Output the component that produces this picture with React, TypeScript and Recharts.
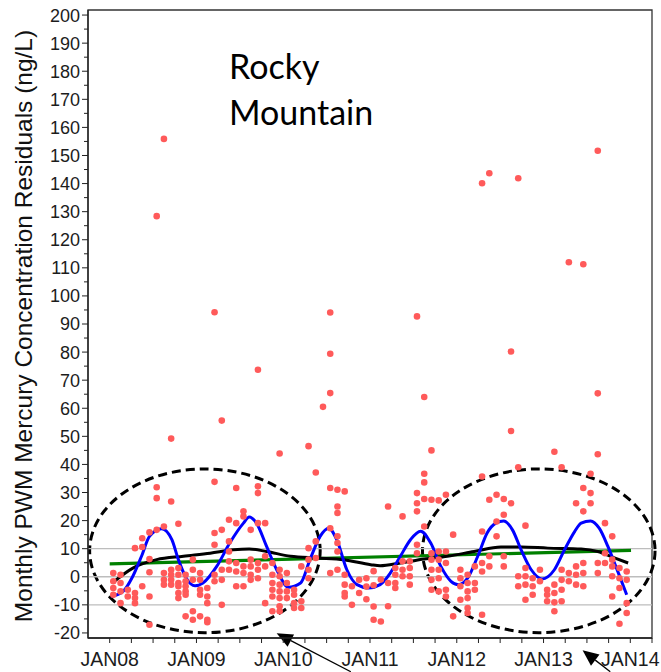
import React from 'react';
import {
  ComposedChart,
  XAxis,
  YAxis,
  Scatter,
  Line,
  ReferenceLine,
  ReferenceArea,
  Customized,
} from 'recharts';

// ---------- data ----------
const xTickLabels = ['JAN08', 'JAN09', 'JAN10', 'JAN11', 'JAN12', 'JAN13', 'JAN14'];
const firstYear = 2008;
const yAxisTitle = 'Monthly PWM Mercury Concentration Residuals (ng/L)';
const panelTitle = ['Rocky', 'Mountain'];

// residuals per month (Jan..Dec), several sites per month
const residuals2008: number[][] = [
  [1.3, -1.6, -4, -6.4],
  [0.7, -2.2, -5.2, -9.4],
  [-4.6, -7],
  [10.2, -5.8, -7.6, -9.4],
  [13.7, 10.6, -3.4],
  [15.8, 6.3, 1.6, -7, -17.1],
  [128.4, 31.9, 28, 16.7],
  [155.9, 17.9, 1.3, -1.1, -2.8],
  [49.2, 26.8, 2.5, 0.7, -1.1, -2.8],
  [18.9, 3.1, 0.7, -2.2, -3.4, -5.8, -7.6],
  [0.7, -1.6, -3.4, -5.2, -6.4, -14.1],
  [6.1, 2.5, -1.1, -12.3, -15.3],
];
const residuals2009: number[][] = [
  [1.3, -1.1, -4.6, -6.4, -14.1],
  [-4, -7, -9.4, -15.3, -16.2],
  [94.2, 33.8, 15.6, 11.4, 0.7, -1.6],
  [55.6, 16.7, 2.5, -1.1, -10],
  [20.3, 12.6, 9, 5.5, 2.5],
  [31.6, 19.1, 4.9, 1.9, -3.4],
  [23.3, 21.5, 3.7, 1.3, -3.4],
  [16.7, 6.1, 3.7, 0.7, -1.1],
  [73.7, 32.2, 29.8, 19.1, 4.9, 2.5, -0.5],
  [19.1, 7.3, 3.7, -9.4],
  [4.9, 0.7, -2.2, -4.6, -7, -12.3],
  [43.9, 2.5, 0.2, -2.8, -5.2, -7.6, -10.5, -12.3],
];
const residuals2010: number[][] = [
  [1.3, -2.2, -5.2, -7.6],
  [-4.6, -6.4, -9.4, -11.1],
  [3.7, -8.7, -11.1],
  [46.5, 10.2, 6.1, 2.5, -0.5],
  [37.1, 12.6, 6.7],
  [60.5],
  [94.1, 79.4, 65.4, 31.6, 17.3, 1.3],
  [31, 25, 22.7, 14.4, 12, 9, 2.5],
  [30.4, 0.7, -2.8, -5.8, -7],
  [-3.4, -10],
  [-1.1, -5.8],
  [-0.5, -3.5, -8],
];
const residuals2011: number[][] = [
  [2, -3, -10.6, -15.3],
  [-1, -15.9],
  [25, -2.2, -10.5],
  [3.1, 0.7, -2.2, -4],
  [21.5, 5.5, 2.5, 0.2],
  [5.5, 3.1, 0.2, -2.8],
  [92.7, 29.8, 26.2, 23.3, 11.4, 8.4],
  [64, 36.7, 33.6, 27.7, 17.9],
  [45, 27.4, 8.4, 6.1, 2.5, -1.1, -4.6],
  [27.2, 9, 6.1, 2.5, -0.5, -5.2],
  [29.2, 9, 4.9, -4.6, -7],
  [15, -14.1],
];
const residuals2012: number[][] = [
  [2.5, -0.5, -3.4, -8.2],
  [0.7, -2.2, -5.2, -7.6, -11.1, -12.9],
  [3.7, -2.2, -4.6],
  [140.1, 35.7, 16.1, 4.9, 1.9, -13.5],
  [143.7, 27.4, 7.3, 3.7],
  [29.2, 19.7, 14.4],
  [27.7, 22.1, 7.3, 3.7],
  [80.2, 51.9, 26.2],
  [141.9, 39, 0.2, -3.4],
  [18.2, 3.1, 0.2, -2.8, -8.2],
  [-0.5, -3.4, -6.4],
  [2.5, -1.6],
];
const residuals2013: number[][] = [
  [-4.6, -6.4, -8.7],
  [44.5, -2.8, -5.8, -9.1, -12.3],
  [39, 2.5, -1.1, -4.6, -8.7],
  [112, 1.3, -1.6],
  [26.2, 3.7, 0.7, -2.8],
  [111.3, 31.6, 23.3, 4.9, 1.3, -3.4],
  [36.7, 29.8, 26.2],
  [151.7, 65.3, 43.6, 4.9, 1.3],
  [19.1, 8.4, 4.9],
  [14.4, 6.1, 3.7, 0.2, -7],
  [3.1, -0.5, -4, -16.7],
  [1.9, -1.1, -9.4, -12.9],
];

// seasonal fit (blue): months since Jan 2008, value
const seasonalMonths = [
  0.2, 1.85, 3.2, 4.4, 5.5, 7.2, 8.6, 9.5, 10.6, 11.8, 12.9, 14.8, 16.6, 18.5, 19.3, 20.3, 21.7,
  23.1, 24.7, 26.4, 27.7, 29.1, 30.3, 31.4, 32.8, 34.2, 35.8, 37.4, 38.8, 40.2, 41.6, 43, 44.4,
  45.8, 47.2, 48.2, 49.5, 50.9, 52.2, 53.4, 54.5, 55.7, 56.9, 58.3, 59.8, 61.5, 62.9, 64.3,
  65.2, 66.5, 67.7, 68.9, 70, 71.5,
];
const seasonalValues = [
  -7, -5.2, 0.2, 7.3, 14.4, 17.1, 13.2, 6.1, -0.5, -3.2, -2.2, 3.7, 12, 19.1, 21.3, 19.1, 10.8,
  2.5, -3.7, -2.2, 6.1, 14.4, 17.3, 13.2, 2.5, -2.8, -4, -2.8, 1.3, 7.3, 13.2, 16.2, 12, 3.7,
  -1.6, -2.8, -0.5, 7.3, 15.6, 19.1, 19.9, 16.7, 9.6, 2.5, -0.8, 2.5, 9.6, 16.1, 19.1, 19.9,
  17.3, 10.8, 3.7, -6.4,
];
// smooth trend (black)
const smoothMonths = [
  0.5, 3.2, 6.5, 10.2, 13.9, 17.1, 19.3, 21.7, 25, 28.7, 32.4, 36.1, 37.4, 40.2, 43.5, 46.7,
  50.4, 54.1, 56.9, 60.6, 65.2, 67.5, 69.8, 71.7,
];
const smoothValues = [
  -1.9, 3.1, 6.1, 7.3, 8.4, 9.6, 9.9, 9, 7.3, 6.7, 6.1, 4.3, 3.9, 4.9, 6.3, 7.3, 9, 10.6, 10.6,
  10.2, 9.9, 9, 6.7, 4.9,
];
// linear trend (green)
const trendMonths = [0, 72.1];
const trendValues = [4.6, 9.4];

// ---------- derived ----------
const monthToYear = (m: number) => firstYear + m / 12;
const scatterData = [
  residuals2008,
  residuals2009,
  residuals2010,
  residuals2011,
  residuals2012,
  residuals2013,
].flatMap((months, yi) =>
  months.flatMap((vals, mi) =>
    vals.map((v) => ({ x: firstYear + yi + (mi + 0.5) / 12, y: v }))
  )
);
const seasonalData = seasonalMonths.map((m, i) => ({ x: monthToYear(m), y: seasonalValues[i] }));
const smoothData = smoothMonths.map((m, i) => ({ x: monthToYear(m), y: smoothValues[i] }));
const trendData = trendMonths.map((m, i) => ({ x: monthToYear(m), y: trendValues[i] }));

const X_MIN = 2007.75;
const X_MAX = 2014.25;
const Y_MIN = -21.8;
const Y_MAX = 201.8;
const xTicks: number[] = [];
for (let q = 2008; q <= X_MAX + 1e-9; q += 0.25) xTicks.push(q);
const yTicks: number[] = [];
for (let v = -20; v <= 200; v += 5) yTicks.push(v);

const tickFont = '"Liberation Sans", Arial, sans-serif';

const YTick = (props: any) => {
  const { x, y, payload } = props;
  const v = payload.value as number;
  const axisX = x + 8;
  const major = v % 10 === 0;
  return (
    <g>
      <line x1={axisX - (major ? 6 : 4)} x2={axisX} y1={y} y2={y} stroke="#222" strokeWidth={1} />
      {major && (
        <text x={axisX - 8} y={y} dy="0.36em" textAnchor="end" fontSize={18} fontFamily={tickFont} fill="#1c1c1c">
          {v}
        </text>
      )}
    </g>
  );
};

const XTick = (props: any) => {
  const { x, y, payload } = props;
  const v = payload.value as number;
  const axisY = y - 8;
  const idx = Math.round(v - firstYear);
  const major = Math.abs(v - Math.round(v)) < 1e-6;
  return (
    <g>
      <line x1={x} x2={x} y1={axisY} y2={axisY + 5} stroke="#222" strokeWidth={1} />
      {major && (
        <text x={x} y={axisY + 27.5} textAnchor="middle" fontSize={19.5} fontFamily={tickFont} fill="#1c1c1c">
          {xTickLabels[idx]}
        </text>
      )}
    </g>
  );
};

const Dot = (props: any) => {
  const { cx, cy } = props;
  return <circle cx={cx} cy={cy} r={3.3} fill="#ff5a5a" />;
};

const EllipseShape = (props: any) => {
  const { x, y, width, height } = props;
  return (
    <ellipse
      cx={x + width / 2}
      cy={y + height / 2}
      rx={Math.abs(width) / 2}
      ry={Math.abs(height) / 2}
      fill="none"
      stroke="#000"
      strokeWidth={3}
      strokeDasharray="9 5"
    />
  );
};

const ArrowShape = (props: any) => {
  const { x1, y1, x2, y2 } = props;
  // arrow points from (x1,y1) tail to (x2,y2) tip
  const ang = Math.atan2(y2 - y1, x2 - x1);
  const len = 16;
  const half = 7;
  const bx = x2 - len * Math.cos(ang);
  const by = y2 - len * Math.sin(ang);
  const px = -Math.sin(ang) * half;
  const py = Math.cos(ang) * half;
  return (
    <g>
      <line x1={x1} y1={y1} x2={bx} y2={by} stroke="#000" strokeWidth={1.3} />
      <polygon points={`${x2},${y2} ${bx + px},${by + py} ${bx - px},${by - py}`} fill="#000" />
    </g>
  );
};

const Texts = () => (
  <g>
    <text
      x={31.5}
      y={326}
      transform="rotate(-90, 31.5, 326)"
      textAnchor="middle"
      fontSize={24.5}
      fontFamily={tickFont}
      fill="#111"
    >
      {yAxisTitle}
    </text>
    <text x={229} y={79} fontSize={34} fontFamily="Lato, 'Open Sans', sans-serif" fill="#000">
      {panelTitle[0]}
    </text>
    <text x={229} y={125} fontSize={34} fontFamily="Lato, 'Open Sans', sans-serif" fill="#000">
      {panelTitle[1]}
    </text>
  </g>
);

export default function App() {
  return (
    <div style={{ position: 'absolute', left: 0, top: 0, background: '#fff' }}>
      <ComposedChart width={661} height={672} margin={{ top: 10, right: 9, bottom: 0, left: 0 }}>
        <XAxis
          type="number"
          dataKey="x"
          domain={[X_MIN, X_MAX]}
          allowDataOverflow
          ticks={xTicks}
          interval={0}
          height={34}
          tickSize={6}
          tickMargin={2}
          tickLine={false}
          tick={<XTick />}
          axisLine={{ stroke: '#222', strokeWidth: 1.3 }}
        />
        <YAxis
          type="number"
          dataKey="y"
          domain={[Y_MIN, Y_MAX]}
          allowDataOverflow
          ticks={yTicks}
          interval={0}
          width={88}
          tickSize={6}
          tickMargin={2}
          tickLine={false}
          tick={<YTick />}
          axisLine={{ stroke: '#222', strokeWidth: 1.3 }}
        />
        <ReferenceArea x1={X_MIN} x2={X_MAX} y1={Y_MIN} y2={Y_MAX} fill="none" stroke="#333" strokeWidth={1.3} />
        <ReferenceLine y={10} stroke="#bdbdbd" strokeWidth={1.3} />
        <ReferenceLine y={0} stroke="#bdbdbd" strokeWidth={1.3} />
        <ReferenceLine y={-10} stroke="#bdbdbd" strokeWidth={1.3} />
        <Scatter data={scatterData} dataKey="y" shape={<Dot />} isAnimationActive={false} />
        <Line data={trendData} dataKey="y" type="linear" stroke="#008000" strokeWidth={3.2} dot={false} isAnimationActive={false} />
        <Line data={smoothData} dataKey="y" type="monotone" stroke="#000" strokeWidth={3} dot={false} isAnimationActive={false} />
        <Line data={seasonalData} dataKey="y" type="monotone" stroke="#0000ff" strokeWidth={3} dot={false} isAnimationActive={false} />
        <ReferenceArea
          x1={2007.769}
          x2={2010.426}
          y1={-19.9}
          y2={38.4}
          ifOverflow="visible"
          shape={<EllipseShape />}
        />
        <ReferenceArea
          x1={2011.605}
          x2={2014.285}
          y1={-19.9}
          y2={38.4}
          ifOverflow="visible"
          shape={<EllipseShape />}
        />
        <ReferenceLine
          segment={[
            { x: 2010.779, y: -33.8 },
            { x: 2009.924, y: -20.1 },
          ]}
          ifOverflow="visible"
          shape={<ArrowShape />}
        />
        <ReferenceLine
          segment={[
            { x: 2013.769, y: -33.8 },
            { x: 2013.45, y: -26.2 },
          ]}
          ifOverflow="visible"
          shape={<ArrowShape />}
        />
        <Customized component={<Texts />} />
      </ComposedChart>
    </div>
  );
}
